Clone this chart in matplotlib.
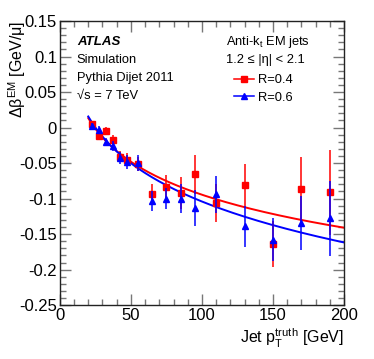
import numpy as np
import matplotlib
matplotlib.use('Agg')
import matplotlib.pyplot as plt
from matplotlib.ticker import MultipleLocator

plt.rcParams['font.family'] = ['Liberation Sans', 'DejaVu Sans']
plt.rcParams['mathtext.fontset'] = 'custom'
plt.rcParams['mathtext.rm'] = 'Liberation Sans'
plt.rcParams['mathtext.it'] = 'Liberation Sans:italic'

# jet pT bin centres [GeV]
pt = [22.5, 27.5, 32.5, 37.5, 42.5, 47.5, 55, 65, 75, 85, 95, 110, 130, 150, 170, 190]

# R=0.4
r04 = [0.0045, -0.0124, -0.005, -0.017, -0.041, -0.045, -0.051, -0.094,
       -0.084, -0.092, -0.066, -0.106, -0.081, -0.164, -0.086, -0.091]
r04_err = [0.005, 0.005, 0.006, 0.007, 0.008, 0.009, 0.010, 0.015,
           0.017, 0.022, 0.027, 0.027, 0.030, 0.032, 0.045, 0.060]

# R=0.6
r06 = [0.002, -0.003, -0.020, -0.026, -0.043, -0.049, -0.050, -0.104,
       -0.100, -0.100, -0.113, -0.094, -0.139, -0.158, -0.134, -0.128]
r06_err = [0.005, 0.005, 0.006, 0.007, 0.008, 0.010, 0.011, 0.014,
           0.015, 0.020, 0.025, 0.026, 0.029, 0.030, 0.038, 0.053]

# fit curves: y = a + b*ln(pt) + c*ln(pt)^2
fit_r04 = (0.214, -0.067, 0.0)
fit_r06 = (0.186, -0.0455, -0.0038)
fit_range = (20, 200)

RED = '#ff0000'
BLUE = '#0000ff'

fig = plt.figure(figsize=(3.74, 3.59), dpi=100)
ax = fig.add_axes([0.160, 0.150, 0.760, 0.7915])

xf = np.linspace(fit_range[0], fit_range[1], 300)
for (a, b, c), col in [(fit_r04, RED), (fit_r06, BLUE)]:
    u = np.log(xf)
    ax.plot(xf, a + b * u + c * u ** 2, color=col, lw=1.4, zorder=2)

ax.errorbar(pt, r04, yerr=r04_err, fmt='s', color=RED, ms=4.5, lw=1.1,
            capsize=0, zorder=3)
ax.errorbar(pt, r06, yerr=r06_err, fmt='^', color=BLUE, ms=4.8, lw=1.1,
            capsize=0, zorder=4)

ax.set_xlim(0, 200)
ax.set_ylim(-0.25, 0.15)
ax.xaxis.set_major_locator(MultipleLocator(50))
ax.xaxis.set_minor_locator(MultipleLocator(10))
ax.yaxis.set_minor_locator(MultipleLocator(0.01))
ax.set_yticks(np.arange(-0.25, 0.151, 0.05))
ax.set_yticklabels(['-0.25', '-0.2', '-0.15', '-0.1', '-0.05', '0',
                    '0.05', '0.1', '0.15'])
ax.tick_params(which='both', direction='in', top=True, right=True,
               labelsize=12, color='#777777', width=1)
ax.tick_params(which='major', length=8, pad=2)
ax.tick_params(which='minor', length=4)
for sp in ax.spines.values():
    sp.set_color('#222222')
    sp.set_linewidth(1)

ax.set_xlabel('Jet p$_\\mathrm{T}^\\mathrm{truth}$ [GeV]', fontsize=11.5,
              loc='right', labelpad=3)
ax.set_ylabel('Δβ$^\\mathrm{EM}$ [GeV/μ]', fontsize=11.5, loc='top')
ax.yaxis.set_label_coords(-0.112, 1.0)

ax.text(0.06, 0.925, 'ATLAS', transform=ax.transAxes, fontsize=9.5,
        fontweight='bold', style='italic', va='center')
ax.text(0.06, 0.862, 'Simulation', transform=ax.transAxes, fontsize=9.3,
        va='center')
ax.text(0.06, 0.800, 'Pythia Dijet 2011', transform=ax.transAxes,
        fontsize=9.3, va='center')
ax.text(0.06, 0.737, '√s = 7 TeV', transform=ax.transAxes, fontsize=9.3,
        va='center')

ax.text(0.585, 0.925, 'Anti-k$_\\mathrm{t}$ EM jets', transform=ax.transAxes,
        fontsize=9.3, va='center')
ax.text(0.585, 0.862, '1.2 ≤ |η| < 2.1', transform=ax.transAxes,
        fontsize=9.3, va='center')

handles = [plt.Line2D([], [], color=RED, marker='s', ms=4.5, lw=1.1),
           plt.Line2D([], [], color=BLUE, marker='^', ms=4.8, lw=1.1)]
ax.legend(handles, ['R=0.4', 'R=0.6'], loc='upper left',
          bbox_to_anchor=(0.58, 0.845), frameon=False, fontsize=9.3,
          handlelength=1.6, handletextpad=0.3, labelspacing=0.45,
          borderpad=0.2)

fig.savefig('out.png', dpi=100)
